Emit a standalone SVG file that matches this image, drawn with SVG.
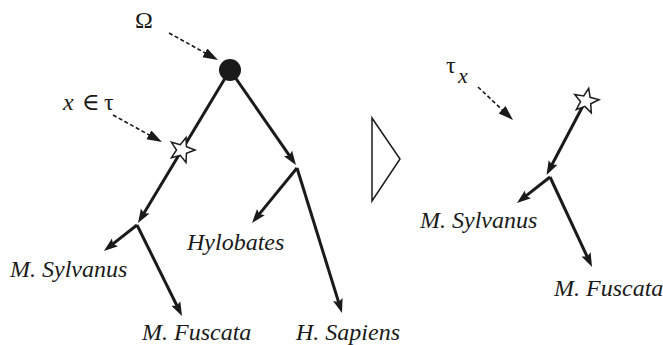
<svg xmlns="http://www.w3.org/2000/svg" width="663" height="345" viewBox="0 0 663 345">
<style>
.edge{stroke:#1a1a1a;stroke-width:3;fill:none;marker-end:url(#ah)}
.dash{stroke:#1a1a1a;stroke-width:1.6;stroke-dasharray:4 2.5;fill:none;marker-end:url(#dh)}
text{font-family:'Liberation Serif','DejaVu Serif',serif;fill:#1a1a1a;font-size:24px}
.lbl{font-style:italic}
.star{fill:#fff;stroke:#1a1a1a;stroke-width:1.5;stroke-linejoin:miter}
</style>
<defs>
<marker id="ah" markerUnits="userSpaceOnUse" markerWidth="16" markerHeight="12" refX="9" refY="5" orient="auto">
<path d="M0,0 L14,5 L0,10 L2.5,5 z" fill="#1a1a1a"/>
</marker>
<marker id="dh" markerUnits="userSpaceOnUse" markerWidth="18" markerHeight="12" refX="10" refY="5" orient="auto">
<path d="M0,0 L15,5 L0,10 z" fill="#1a1a1a"/>
</marker>
<path id="starShape" d="M0,-13 L3.23,-4.45 L12.36,-4.02 L5.23,1.7 L7.64,10.52 L0,5.5 L-7.64,10.52 L-5.23,1.7 L-12.36,-4.02 L-3.23,-4.45 Z"/>
</defs>
<g id="connectors">
<line class="edge" x1="230" y1="70" x2="140.6" y2="218.7"/>
<line class="edge" x1="137" y1="225" x2="107.9" y2="247.9"/>
<line class="edge" x1="137" y1="225" x2="179.8" y2="311.5"/>
<line class="edge" x1="230" y1="70" x2="293.1" y2="160.9"/>
<line class="edge" x1="297" y1="168" x2="255.2" y2="219.1"/>
<line class="edge" x1="297" y1="168" x2="340.5" y2="308.2"/>
<line class="edge" x1="585" y1="102" x2="548.9" y2="170.5"/>
<line class="edge" x1="550" y1="177" x2="520.9" y2="199.9"/>
<line class="edge" x1="550" y1="177" x2="589.9" y2="262.5"/>
<line class="dash" x1="169" y1="33" x2="213.6" y2="57.6"/>
<line class="dash" x1="113" y1="115" x2="157.6" y2="139.6"/>
<line class="dash" x1="478" y1="87" x2="509.4" y2="116.6"/>
</g>
<g id="root"><circle cx="230" cy="70" r="11" fill="#1a1a1a"/></g>
<g id="star-left"><use href="#starShape" class="star" transform="translate(182,150) rotate(18)"/></g>
<g id="star-right"><use href="#starShape" class="star" transform="translate(586,101) rotate(12)"/></g>
<g id="omega-label"><text x="135" y="28" font-size="27">Ω</text></g>
<g id="x-in-tau-label"><text y="110" font-size="26"><tspan x="63" font-style="italic">x</tspan><tspan x="82">∈</tspan><tspan x="104">τ</tspan></text></g>
<g id="tau-x-label"><text y="73" font-size="28"><tspan x="446">τ</tspan><tspan x="458" y="83" font-style="italic" font-size="22">x</tspan></text></g>
<g id="implies"><polygon points="372,118 400,159 372,201" fill="#fff" stroke="#1a1a1a" stroke-width="1.5"/></g>
<g id="m-sylvanus-left"><text class="lbl" x="10" y="277">M. Sylvanus</text></g>
<g id="hylobates"><text class="lbl" x="187" y="250">Hylobates</text></g>
<g id="m-fuscata-left"><text class="lbl" x="142" y="340">M. Fuscata</text></g>
<g id="h-sapiens"><text class="lbl" x="296" y="340">H. Sapiens</text></g>
<g id="m-sylvanus-right"><text class="lbl" x="420" y="228">M. Sylvanus</text></g>
<g id="m-fuscata-right"><text class="lbl" x="554" y="296">M. Fuscata</text></g>
</svg>
